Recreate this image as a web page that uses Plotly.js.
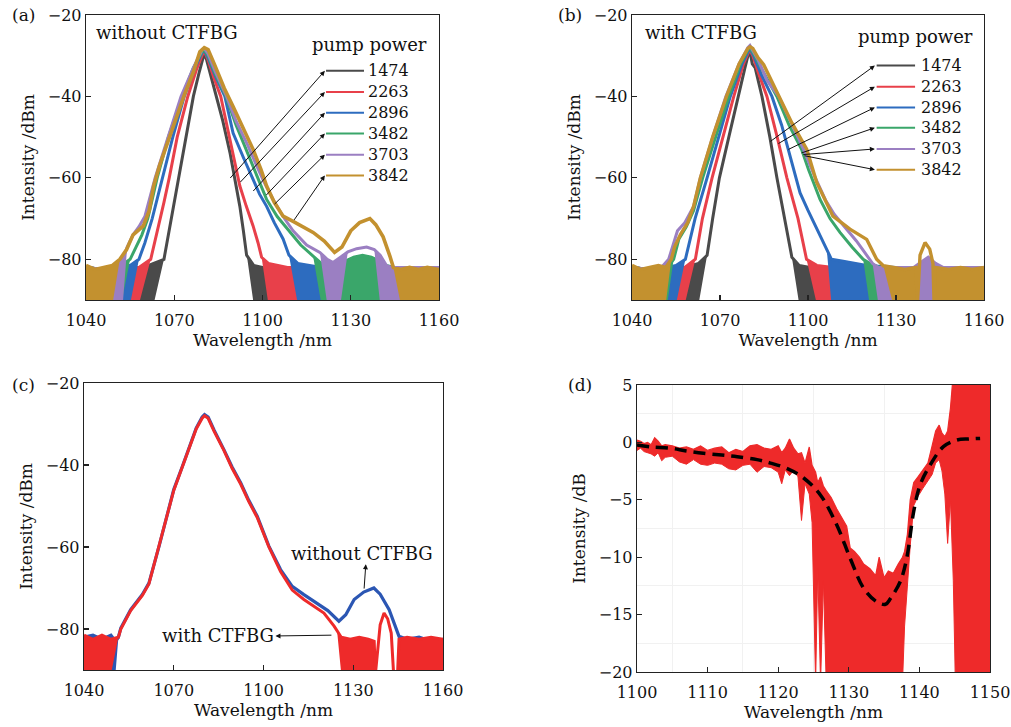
<!DOCTYPE html>
<html><head><meta charset="utf-8">
<script src="https://cdn.plot.ly/plotly-3.0.1.min.js"></script>
<style>html,body{margin:0;padding:0;background:#fff}#chart{width:1011px;height:727px}</style>
</head><body><div id="chart"></div>
<script>
// ---------- Panel (a): without CTFBG ----------
const pumpPowers = ['1474','2263','2896','3482','3703','3842'];

const a1474_x = [1040,1046,1052,1058,1063,1066.5,1067.5,1069,1071.5,1074,1076.5,1078.5,1079.6,1080.2,1081,1082.5,1084.4,1086.5,1089,1091,1092.3,1093.5,1094.6,1097,1100,1106,1115,1125,1135,1145,1152,1160];
const a1474_y = [-82,-82.5,-82,-82.5,-81,-80,-76,-70,-60,-50,-40,-34,-30.5,-29.4,-31,-35,-40,-46,-54,-62,-67,-73,-79,-81.5,-82,-82,-82,-82,-82,-82,-82.5,-82];
const a1474_sig = [[1066.5,1094.6]];

const a2263_x = [1040,1046,1052,1058,1062,1063,1064.5,1066.5,1068.3,1071,1074.6,1077.5,1079.5,1080.3,1081.5,1083.5,1085.8,1088.5,1092.3,1094.5,1096.8,1098.5,1099.7,1102,1105,1108.5,1115,1125,1135,1145,1160];
const a2263_y = [-82,-82.5,-82,-82,-80,-77,-72,-66,-60,-50,-40,-33.5,-29.8,-29,-31,-35.5,-40,-49,-62,-67,-71.8,-76,-79.5,-81,-81.5,-82,-82,-82,-82,-82,-82];
const a2263_sig = [[1062,1099.7]];

const a2896_x = [1040,1046,1052,1055,1058,1060,1062.5,1066,1069.5,1073.4,1077,1079.5,1080.2,1081.5,1084,1087.2,1090,1093.5,1096.8,1099,1101.4,1104,1107,1109,1112,1116,1120,1125,1135,1145,1160];
const a2896_y = [-82,-82.5,-81.5,-81.5,-80,-76,-70,-60,-50,-40,-33,-29.2,-28.7,-30.5,-35,-40,-49,-55,-60.4,-64,-67,-71,-75,-79,-81,-81.5,-82,-82,-82,-82,-82];
const a2896_sig = [[1058,1109]];

const a3482_x = [1040,1046,1052,1055,1057,1059,1061,1064.2,1068,1072.7,1076.5,1079.5,1080.2,1081.5,1084,1087.6,1091,1095,1098.3,1101.4,1105,1109.3,1113,1117.2,1120,1123,1126,1128,1131,1134,1137,1140,1142,1145,1150,1160];
const a3482_y = [-82,-82.5,-81.5,-80,-77,-74,-70,-60,-50,-40,-33,-29,-28.5,-30,-34.5,-40,-47,-54,-60,-65.3,-69.5,-73.4,-76.5,-79.2,-81,-81.5,-81.5,-80.5,-79.5,-79,-79.5,-80.5,-81.5,-82,-82,-82];
const a3482_sig = [[1055,1117.2]];

const a3703_x = [1040,1046,1050,1052.5,1054,1056,1058,1060,1063.5,1068,1072.3,1076.5,1079.5,1080.2,1081.5,1084,1087.8,1091,1095,1098,1100.5,1103.6,1107,1110.4,1115,1119.5,1122,1124,1126.5,1129,1132,1135.4,1138,1140,1142.2,1144,1150,1160];
const a3703_y = [-82,-82.5,-82,-80,-77,-74,-72,-69.5,-60,-50,-40,-33,-28.5,-28.2,-29.5,-34,-40,-46,-52,-57,-61,-65.3,-69.5,-73,-76.5,-78.3,-80,-80.8,-79.5,-78.2,-77.4,-77,-77.6,-79,-81.6,-82,-82,-82];
const a3703_sig = [[1053,1120],[1128,1139]];

const a3842_x = [1040,1043,1046,1049,1051.5,1053.8,1056,1059.5,1061.5,1063,1065,1067.4,1070.5,1073.5,1076.5,1078.7,1080.2,1081.5,1083.6,1087,1090,1093.5,1096.8,1099.5,1101.4,1104,1107,1110.4,1113.5,1117.2,1121,1124.5,1127,1130,1133,1136.5,1138.5,1141,1143.3,1144.5,1147,1150,1153,1156,1160];
const a3842_y = [-81.5,-82.5,-82,-81.5,-80,-77.6,-74,-71.8,-68,-62,-57,-52,-45.5,-39.5,-34,-29,-28,-28.5,-32,-38,-42.5,-48,-53,-58,-62,-66,-69.4,-70.7,-72,-73.4,-75.5,-78.3,-77,-73,-71,-70,-71.5,-74.5,-79.2,-82,-82.5,-82,-82.5,-82,-82.5];
const a3842_sig = [[1051.5,1144.5]];

// ---------- Panel (b): with CTFBG ----------
const b1474_x = [1040,1046,1052,1058,1062.7,1065.6,1067.5,1069.8,1073,1076.1,1078.5,1079.7,1080.3,1081,1082,1084.3,1087,1089.4,1092,1094.5,1097,1100.7,1108,1120,1135,1150,1160];
const b1474_y = [-82,-82.5,-82,-82,-81,-79,-70,-60,-50,-40,-33,-29.5,-29.2,-32,-33,-40,-50,-60,-70,-79.5,-81.5,-82,-82,-82,-82,-82,-82];
const b1474_sig = [[1065.6,1094.5]];

const b2263_x = [1040,1046,1052,1058,1061.6,1064,1067.3,1071,1074.7,1078,1079.8,1080.3,1081.2,1083,1086,1089.5,1092.8,1096.6,1099.5,1103,1108.5,1120,1140,1160];
const b2263_y = [-82,-82.5,-82,-82,-80,-70,-60,-50,-40,-32,-29,-28.8,-30,-34,-40,-50,-60,-70,-80,-81.5,-82,-82,-82,-82];
const b2263_sig = [[1061.6,1099.5]];

const b2896_x = [1040,1046,1052,1055,1058.2,1061.5,1065.6,1069.5,1073.5,1077.5,1079.8,1080.3,1081.5,1084,1087.7,1091,1094,1097.3,1100,1103,1106.4,1108,1112,1116,1120,1130,1145,1160];
const b2896_y = [-82,-82.5,-82,-81.5,-80,-70,-60,-50,-40,-32,-28.6,-28.4,-30,-34.5,-40,-47,-55,-63.7,-68,-72.5,-77.6,-80,-80.5,-81,-81.5,-82,-82,-82];
const b2896_sig = [[1058.2,1106.4]];

const b3482_x = [1040,1046,1052,1054.2,1056,1058.5,1061,1064.1,1068.5,1073,1077,1079.7,1080.3,1081.5,1084,1089.4,1093.5,1097.8,1100.2,1104.1,1107.5,1110.9,1115,1118.8,1121,1124.5,1130,1145,1160];
const b3482_y = [-82,-82.5,-82,-80,-75,-72,-68,-60,-50,-40,-32,-28.3,-28.2,-29.5,-33,-40,-47,-53,-58,-65.3,-70,-73.4,-77,-80,-81,-82,-82,-82,-82];
const b3482_sig = [[1054.2,1118.8]];

const b3703_x = [1040,1046,1050,1052.5,1055.5,1058,1061,1063.3,1067.5,1072,1076.5,1079.5,1080.2,1081,1083,1086,1090,1094,1098.5,1102.5,1106,1109,1113,1116.5,1119.5,1122,1124,1130,1136,1139,1141,1143.5,1146,1152,1160];
const b3703_y = [-82,-82.5,-82,-80,-73,-71,-67,-60,-50,-40,-32,-28,-27.5,-28.5,-31,-36,-40,-46,-53,-60,-65.5,-69,-72.5,-75.5,-78.5,-81,-82,-82,-82,-80.5,-79.5,-81,-82,-82,-82];
const b3703_sig = [[1052.5,1122]];

const b3842_x = [1040,1043,1046,1049,1051.5,1053.4,1054.5,1056.5,1059,1061,1063.3,1067.5,1072.2,1076.5,1079.5,1080.3,1081.2,1083,1084.9,1087.5,1090,1094.5,1099.6,1103,1108.5,1114.3,1120,1123.4,1125.7,1129,1133,1136.8,1137.3,1138.2,1139.9,1141.5,1142.6,1143,1143.4,1148,1152,1156,1160];
const b3842_y = [-81.5,-82.5,-82,-81.5,-82,-80,-77,-73.9,-71,-67,-60,-50,-40,-32,-28.2,-27.8,-28.2,-30.5,-32.2,-36,-40,-46.5,-53,-61.2,-69.4,-72.6,-75.1,-80,-81.6,-82,-82.5,-82,-91,-79,-75.9,-77.5,-81,-91,-82,-82.5,-82,-82.5,-82];
const b3842_sig = [[1053.4,1125.7],[1137.3,1143]];

// ---------- Panel (c): comparison ----------
const cWithout_x = [1040,1043,1046,1049,1050.5,1051.5,1052.3,1055.6,1059.5,1061.7,1065.1,1067.6,1070,1072.9,1075,1077.5,1079.5,1080.3,1081.5,1083.5,1086.8,1089.5,1092.4,1095,1097.9,1101.8,1105.7,1109.6,1113.5,1118,1121.5,1125.2,1127.5,1130.3,1133.5,1136.9,1139,1142,1145.3,1148,1152,1156,1160];
const cWithout_y = [-82,-81.5,-82.5,-81.5,-83,-82,-79.8,-75.3,-71.6,-68.8,-59.8,-52.5,-46,-40.3,-36,-31,-28.3,-27.7,-28.3,-31.5,-36.3,-40.5,-44.4,-48.5,-52.5,-59.8,-65.5,-69.6,-71.6,-73.7,-75.5,-78.1,-76.5,-72.8,-71,-70,-71.5,-75.3,-81.8,-82.5,-82,-83,-82.5];
const cWithout_sig = [[1051.5,1145.3]];

const cWith_x = [1040,1043,1046,1049,1051.5,1052.3,1055.6,1059.5,1061.7,1065.1,1067.6,1070,1072.9,1075,1077.5,1079.5,1080.3,1081.5,1083.5,1086.8,1089.5,1092.4,1095,1097.9,1101.8,1105.7,1109.6,1113.5,1117,1120.2,1123.6,1124.6,1126,1129,1132,1135,1137,1137.4,1138.2,1139,1140.3,1141.5,1142.7,1143.5,1144.8,1145.3,1148,1152,1156,1160];
const cWith_y = [-81.5,-82.5,-81.5,-82.5,-82,-80,-75.5,-71.8,-69,-60,-52.8,-46.2,-40.5,-36.2,-31.2,-28.6,-28,-28.6,-31.8,-36.5,-40.8,-44.7,-48.8,-52.8,-60,-66,-70.5,-72.8,-74.5,-76.1,-79.3,-80.5,-82,-82.5,-82,-82.5,-83,-91,-84,-79,-76.1,-77.5,-81,-91,-91,-82.5,-82,-82.5,-82,-82.5];
const cWith_sig = [[1051.5,1124.6],[1137.4,1143.5]];

// ---------- Panel (d): transmission ----------
const d_x = [1100,1100.5,1101,1101.5,1102,1102.5,1103,1103.5,1104,1105,1106,1107,1108,1109,1110,1111,1112,1113,1114,1115,1116,1117,1118,1119,1120,1120.5,1121,1121.6,1122.2,1122.8,1123.3,1123.8,1124.4,1124.8,1125.3,1125.6,1126,1126.4,1126.8,1127.5,1128.3,1129,1129.7,1130.2,1130.8,1131.5,1132.1,1133,1133.8,1134.3,1135,1135.6,1136.3,1137,1137.6,1137.9,1138.3,1138.7,1139.2,1139.8,1140.5,1141.2,1141.8,1142.3,1142.8,1143.2,1143.6,1144,1144.4,1144.8,1145.1,1150];
const d_upper = [0.2,0.1,-0.1,0,-0.2,0.4,0.1,-0.3,-0.2,-0.3,-0.5,-0.4,-0.6,-0.3,-0.7,-0.5,-0.4,-0.9,-0.6,-0.8,-0.3,-0.2,-0.5,-0.6,-0.3,-0.9,-0.5,0.3,-0.5,-1.0,-0.9,-1.8,-0.4,-2.0,-2.6,-3.5,-3.0,-3.8,-4.2,-4.8,-5.8,-6.5,-7.3,-9.2,-9.5,-10.0,-10.6,-11.0,-11.6,-10.0,-11.8,-11.2,-11.4,-10.6,-10.0,-9.5,-8,-5,-3.5,-3.0,-2.4,-1.8,-0.3,1.0,1.5,0.8,0.5,1.0,3,6,6,6];
const d_lower = [-0.7,-0.5,-0.8,-0.9,-1.0,-1.2,-0.9,-1.6,-1.3,-1.2,-1.7,-1.9,-1.5,-1.9,-2.0,-1.8,-1.9,-2.3,-2.4,-2.0,-1.9,-2.6,-2.1,-2.2,-2.6,-3.6,-2.4,-2.9,-2.4,-3.0,-6.8,-3.6,-4.5,-7,-21,-11,-21,-12,-21,-21,-21,-21,-21,-21,-21,-21,-21,-21,-21,-21,-21,-21,-21,-21,-21,-16,-12,-9,-5.5,-4.7,-4.0,-3.3,-2.8,-1.8,-1.5,-2.5,-4.5,-8.8,-5,-12,-21,-21];
const fit_x = [1100,1102,1104.7,1107,1109.4,1112,1114.2,1117,1118.9,1121.2,1123.6,1126,1128.3,1130.2,1132.1,1134,1135.2,1135.9,1137.3,1138.2,1139.2,1140.1,1141.5,1143.4,1145.3,1147,1148.6];
const fit_y = [-0.23,-0.4,-0.5,-0.75,-0.95,-1.1,-1.24,-1.5,-1.8,-2.26,-3.1,-4.6,-7.2,-10.1,-12.7,-13.9,-14.1,-13.6,-12.1,-10.1,-6.0,-3.7,-2.0,-0.37,0.2,0.3,0.35];

// ---------- styling ----------
const colors = ['#4a4a4a','#e8404a','#2d6cbf','#3aa66a','#9b7fc2','#c3912f'];
const FONT = 'DejaVu Serif';
const FLOOR = -91;

function lowerEdge(xs, ys, spans){
  return xs.map((x,i)=> spans.some(s=> x>=s[0] && x<=s[1]) ? ys[i] : FLOOR);
}
function spectrum(xs, ys, spans, color, xa, ya, w){
  const lo = lowerEdge(xs, ys, spans);
  return [
    {x:xs, y:lo, mode:'lines', line:{width:0, color:color}, xaxis:xa, yaxis:ya, showlegend:false, hoverinfo:'skip'},
    {x:xs, y:ys, mode:'lines', line:{width:w||3, color:color}, fill:'tonexty', fillcolor:color, xaxis:xa, yaxis:ya, showlegend:false}
  ];
}

const data = [];
const aSeries = [[a1474_x,a1474_y,a1474_sig],[a2263_x,a2263_y,a2263_sig],[a2896_x,a2896_y,a2896_sig],[a3482_x,a3482_y,a3482_sig],[a3703_x,a3703_y,a3703_sig],[a3842_x,a3842_y,a3842_sig]];
const bSeries = [[b1474_x,b1474_y,b1474_sig],[b2263_x,b2263_y,b2263_sig],[b2896_x,b2896_y,b2896_sig],[b3482_x,b3482_y,b3482_sig],[b3703_x,b3703_y,b3703_sig],[b3842_x,b3842_y,b3842_sig]];
aSeries.forEach((s,i)=> data.push(...spectrum(s[0],s[1],s[2],colors[i],'x','y', i===5?3.6:3)));
bSeries.forEach((s,i)=> data.push(...spectrum(s[0],s[1],s[2],colors[i],'x2','y2', i===5?3.4:3)));
data.push(...spectrum(cWithout_x,cWithout_y,cWithout_sig,'#2b56b3','x3','y3',3.2));
data.push(...spectrum(cWith_x,cWith_y,cWith_sig,'#ee2a2a','x3','y3',3));
data.push({x:d_x, y:d_lower, mode:'lines', line:{width:1, color:'#ee2a2a'}, xaxis:'x4', yaxis:'y4', showlegend:false});
data.push({x:d_x, y:d_upper, mode:'lines', line:{width:1.2, color:'#ee2a2a'}, fill:'tonexty', fillcolor:'#ee2a2a', xaxis:'x4', yaxis:'y4', showlegend:false});
data.push({x:fit_x, y:fit_y, mode:'lines', line:{width:3.5, color:'#000', dash:'12px,7px', shape:'spline'}, xaxis:'x4', yaxis:'y4', showlegend:false});

function xAxis(dom, anchor, range, dtick){
  return {domain:dom, anchor:anchor, range:range, dtick:dtick, tick0:range[0], ticks:'inside', ticklen:5, tickwidth:1.2, tickcolor:'#222',
    showline:true, mirror:true, linecolor:'#222', linewidth:1.3, showgrid:false, zeroline:false, ticklabelstandoff:5,
    tickfont:{family:FONT, size:16, color:'#111'},
    title:{text:'Wavelength /nm', font:{family:FONT, size:17, color:'#111'}, standoff:3}};
}
function yAxis(dom, anchor, range, dtick, title){
  return {domain:dom, anchor:anchor, range:range, dtick:dtick, tick0:0, ticks:'inside', ticklen:5, tickwidth:1.2, tickcolor:'#222',
    showline:true, mirror:true, linecolor:'#222', linewidth:1.3, showgrid:false, zeroline:false,
    tickfont:{family:FONT, size:16, color:'#111'},
    title:{text:title, font:{family:FONT, size:17, color:'#111'}, standoff:8}};
}

const W=1011, H=727;
const px = v=>v/W, py = v=>1-v/H;

const layout = {
  width:W, height:H, margin:{l:0,r:0,t:0,b:0}, paper_bgcolor:'#fff', plot_bgcolor:'#fff',
  font:{family:FONT, size:16, color:'#111'}, showlegend:false,
  xaxis: xAxis([px(86),px(439)],'y',[1040,1160],30),
  yaxis: yAxis([py(300),py(15)],'x',[-90,-20],20,'Intensity /dBm'),
  xaxis2: xAxis([px(632),px(984)],'y2',[1040,1160],30),
  yaxis2: yAxis([py(300),py(15)],'x2',[-90,-20],20,'Intensity /dBm'),
  xaxis3: xAxis([px(84),px(443)],'y3',[1040,1160],30),
  yaxis3: yAxis([py(670),py(383)],'x3',[-90,-20],20,'Intensity /dBm'),
  xaxis4: Object.assign(xAxis([px(637),px(990)],'y4',[1100,1150],10), {minor:{dtick:5, showgrid:true, gridcolor:'#f1f1f1', gridwidth:1}}),
  yaxis4: Object.assign(yAxis([py(672),py(385)],'x4',[-20,5],5,'Intensity /dB'), {minor:{dtick:2.5, showgrid:true, gridcolor:'#f1f1f1', gridwidth:1}}),
  shapes:[], annotations:[]
};

// panel labels
[['(a)',23,15],['(b)',570,15],['(c)',23,385],['(d)',580,385]].forEach(l=>{
  layout.annotations.push({text:l[0], xref:'paper', yref:'paper', x:px(l[1]), y:py(l[2]), xanchor:'center', yanchor:'middle', showarrow:false, font:{family:FONT,size:17,color:'#111'}});
});

// panel a / b texts
layout.annotations.push({text:'without CTFBG', xref:'x', yref:'y', x:1042.7, y:-24.2, xanchor:'left', yanchor:'middle', showarrow:false, font:{family:FONT,size:18,color:'#111'}});
layout.annotations.push({text:'pump power', xref:'x', yref:'y', x:1136.5, y:-27.3, xanchor:'center', yanchor:'middle', showarrow:false, font:{family:FONT,size:18,color:'#111'}});
layout.annotations.push({text:'with CTFBG', xref:'x2', yref:'y2', x:1043.7, y:-24.2, xanchor:'left', yanchor:'middle', showarrow:false, font:{family:FONT,size:18,color:'#111'}});
layout.annotations.push({text:'pump power', xref:'x2', yref:'y2', x:1136.8, y:-25.4, xanchor:'center', yanchor:'middle', showarrow:false, font:{family:FONT,size:18,color:'#111'}});

// legend rows with arrows
const aRows = [-33.7,-38.9,-44,-49.1,-54.3,-59.4];
const aTails = [[1088.6,-60.4],[1092,-61.4],[1096.4,-63.6],[1100.8,-64.6],[1103.6,-66.8],[1110.4,-70.7]];
const bRows = [-32.4,-37.6,-42.7,-47.7,-52.9,-58.0];
const bTails = [[1086.7,-51.3],[1089.4,-51.8],[1092.8,-53.2],[1097.3,-54.0],[1097.9,-54.3],[1098.3,-54.5]];
pumpPowers.forEach((p,i)=>{
  layout.shapes.push({type:'line', xref:'x', yref:'y', x0:1121.6, x1:1134.5, y0:aRows[i], y1:aRows[i], line:{color:colors[i], width:2}});
  layout.annotations.push({text:p, xref:'x', yref:'y', x:1135.3, y:aRows[i], xanchor:'left', yanchor:'middle', showarrow:false, font:{family:FONT,size:16,color:'#111'}});
  layout.annotations.push({text:'', xref:'x', yref:'y', axref:'x', ayref:'y', x:1121.2, y:aRows[i], ax:aTails[i][0], ay:aTails[i][1], showarrow:true, arrowhead:2, arrowsize:1, arrowwidth:1, arrowcolor:'#111', standoff:0, startstandoff:0});
  layout.shapes.push({type:'line', xref:'x2', yref:'y2', x0:1123.4, x1:1136.5, y0:bRows[i], y1:bRows[i], line:{color:colors[i], width:2}});
  layout.annotations.push({text:p, xref:'x2', yref:'y2', x:1137.7, y:bRows[i], xanchor:'left', yanchor:'middle', showarrow:false, font:{family:FONT,size:16,color:'#111'}});
  layout.annotations.push({text:'', xref:'x2', yref:'y2', axref:'x2', ayref:'y2', x:1122.8, y:bRows[i], ax:bTails[i][0], ay:bTails[i][1], showarrow:true, arrowhead:2, arrowsize:1, arrowwidth:1, arrowcolor:'#111', standoff:0, startstandoff:0});
});

// panel c texts
layout.annotations.push({text:'without CTFBG', xref:'x3', yref:'y3', x:1132.9, y:-61.5, xanchor:'center', yanchor:'middle', showarrow:false, font:{family:FONT,size:18,color:'#111'}});
layout.annotations.push({text:'', xref:'x3', yref:'y3', axref:'x3', ayref:'y3', x:1134.2, y:-64.2, ax:1133.6, ay:-70.5, showarrow:true, arrowhead:2, arrowsize:1, arrowwidth:1, arrowcolor:'#111', standoff:0});
layout.annotations.push({text:'with CTFBG', xref:'x3', yref:'y3', x:1084.8, y:-81.7, xanchor:'center', yanchor:'middle', showarrow:false, font:{family:FONT,size:18,color:'#111'}});
layout.annotations.push({text:'', xref:'x3', yref:'y3', axref:'x3', ayref:'y3', x:1104, y:-81.7, ax:1123.2, ay:-81.5, showarrow:true, arrowhead:2, arrowsize:1, arrowwidth:1, arrowcolor:'#111', standoff:0});

Plotly.newPlot('chart', data, layout, {staticPlot:true, displayModeBar:false});
</script></body></html>
